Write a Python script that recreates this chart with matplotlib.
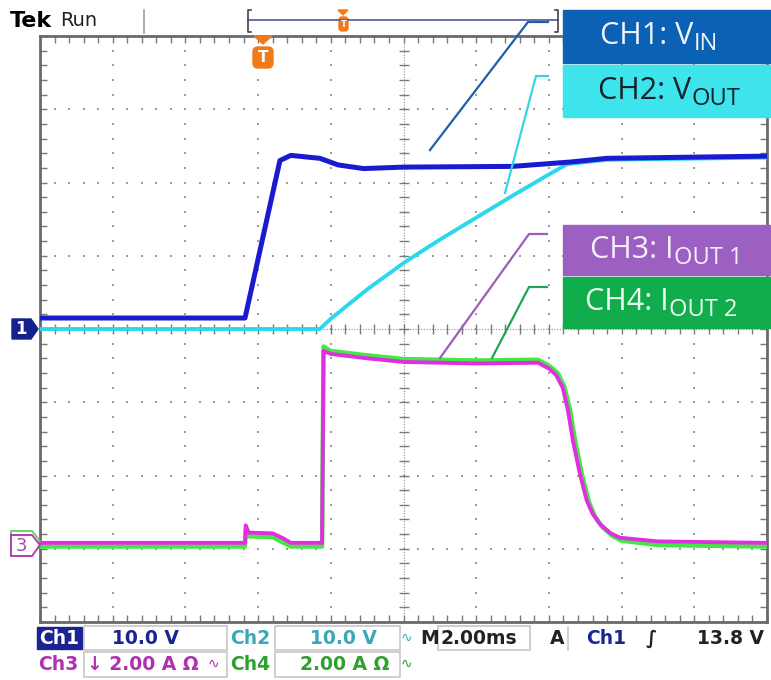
import numpy as np
import matplotlib
matplotlib.use('Agg')
import matplotlib.pyplot as plt
from matplotlib.patches import Rectangle, Polygon, FancyBboxPatch

# --- scope settings (2 ms/div, 10 V/div for CH1/CH2, 2 A/div for CH3/CH4) ---
V_PER_DIV = 10.0
A_PER_DIV = 2.0
CH3_GND = -3.0   # ground marker of CH3/CH4, in divisions

# CH1: V_IN (V) vs time (ms)
t_vin = [0, 5.64, 6.6, 6.9, 7.7, 8.2, 8.9, 10.0, 13.0, 14.6, 15.6, 20.0]
vin_v = [1.5, 1.5, 23.0, 23.7, 23.3, 22.4, 21.9, 22.1, 22.2, 22.8, 23.3, 23.6]

# CH2: V_OUT (V)
t_vout = [0, 7.7, 8.0, 9.0, 10.0, 11.0, 12.0, 13.0, 14.0, 14.5, 15.6, 20.0]
vout_v = [0, 0, 1.4, 5.4, 9.0, 12.2, 15.2, 18.2, 21.1, 22.5, 23.1, 23.4]

# CH3: I_OUT1 (A)
t_iout1 = [0, 5.64, 5.66, 5.74, 6.4, 6.7, 6.9, 7.76, 7.8, 8.0, 9.0, 10.0, 12.0, 13.7,
           14.0, 14.2, 14.38, 14.52, 14.66, 14.84, 15.04, 15.2, 15.4, 15.7, 15.96, 17.0, 20.0]
iout1_a = [0.16, 0.16, 0.64, 0.44, 0.42, 0.28, 0.16, 0.16, 5.40, 5.32, 5.20, 5.10, 5.06, 5.08,
           4.92, 4.74, 4.40, 3.80, 2.96, 2.10, 1.32, 0.96, 0.68, 0.42, 0.30, 0.20, 0.16]

# CH4: I_OUT2 (A)
t_iout2 = [0, 5.64, 5.66, 5.74, 6.4, 6.9, 7.76, 7.8, 8.0, 9.0, 10.0, 12.0, 13.7,
           14.0, 14.24, 14.42, 14.58, 14.72, 14.9, 15.1, 15.26, 15.46, 15.76, 16.0, 17.0, 20.0]
iout2_a = [0.06, 0.06, 0.50, 0.34, 0.32, 0.06, 0.06, 5.52, 5.40, 5.28, 5.18, 5.14, 5.16,
           5.00, 4.80, 4.44, 3.80, 2.96, 2.06, 1.28, 0.90, 0.60, 0.34, 0.22, 0.10, 0.06]

W, H = 771, 680
L, R, T, B = 40, 767, 36, 622   # graticule edges in pixels

fig = plt.figure(figsize=(W / 100, H / 100), dpi=100)
fig.patch.set_facecolor('white')

ax = fig.add_axes([L / W, 1 - B / H, (R - L) / W, (B - T) / H])
ax.set_xlim(0, 20)
ax.set_ylim(-4, 4)
for s in ax.spines.values():
    s.set_color('#6a6a6a')
    s.set_linewidth(2)
ax.set_xticks(np.arange(0, 20.01, 0.4))
ax.set_yticks(np.arange(-4, 4.01, 0.2))
ax.tick_params(direction='in', length=5, width=1, color='#7a7a7a',
               top=True, right=True, labelbottom=False, labelleft=False)

# graticule dots
gc = '#9c9c9c'
ydots = np.arange(-4, 4.01, 0.2)
xdots = np.arange(0, 20.01, 0.4)
for k in range(1, 10):
    if k == 5:
        continue
    ax.plot(np.full(len(ydots), 2 * k), ydots, ls='none', marker='s', ms=1.6, mew=0, color=gc)
for m in [-3, -2, -1, 1, 2, 3]:
    ax.plot(xdots, np.full(len(xdots), m), ls='none', marker='s', ms=1.6, mew=0, color=gc)
# centre cross-hair with ticks
ax.axhline(0, color='#8a8a8a', lw=0.8, ls=(0, (1, 1.5)))
ax.axvline(10, color='#8a8a8a', lw=0.8, ls=(0, (1, 1.5)))
ax.plot(xdots, np.zeros(len(xdots)), ls='none', marker='|', ms=7, mew=1, color='#7a7a7a')
ax.plot(np.full(len(ydots), 10), ydots, ls='none', marker='_', ms=7, mew=1, color='#7a7a7a')

# traces
ax.plot(t_iout2, np.array(iout2_a) / A_PER_DIV + CH3_GND, color='#44e844', lw=3.2,
        solid_joinstyle='round', zorder=3)
ax.plot(t_iout1, np.array(iout1_a) / A_PER_DIV + CH3_GND, color='#e12ee1', lw=2.8,
        solid_joinstyle='round', zorder=4)
ax.plot(t_vout, np.array(vout_v) / V_PER_DIV, color='#2ad8ee', lw=2.8,
        solid_joinstyle='round', zorder=5)
ax.plot(t_vin, np.array(vin_v) / V_PER_DIV, color='#1a1ad0', lw=3.6,
        solid_joinstyle='round', zorder=6)

# ---- overlay in pixel coordinates ----
ov = fig.add_axes([0, 0, 1, 1], zorder=10)
ov.set_xlim(0, W)
ov.set_ylim(H, 0)
ov.axis('off')

# header
ov.text(10, 21, 'Tek', fontsize=16, fontweight='bold', color='black', va='center')
ov.text(60, 20, 'Run', fontsize=14, color='#222222', va='center')
ov.plot([144, 144], [10, 33], color='#a0a0a0', lw=1.2)
ov.plot([248, 558], [20, 20], color='#5a64a8', lw=1.3)
ov.plot([251, 248, 248, 251], [10, 10, 32, 32], color='#444444', lw=1.2)
ov.plot([555, 558, 558, 555], [10, 10, 32, 32], color='#444444', lw=1.2)
orange = '#f07a1a'
ov.add_patch(Polygon([(338, 10), (348, 10), (343, 15)], color=orange))
ov.add_patch(FancyBboxPatch((339, 17), 9, 14, boxstyle='round,pad=0,rounding_size=3', color=orange))
ov.text(343.5, 24.5, 'T', fontsize=6, color='white', fontweight='bold', ha='center', va='center')
ov.add_patch(Polygon([(254, 36), (272, 36), (263, 44)], color=orange))
ov.add_patch(FancyBboxPatch((253, 47), 20, 21, boxstyle='round,pad=0,rounding_size=5', color=orange))
ov.text(263, 57.5, 'T', fontsize=11, color='white', fontweight='bold', ha='center', va='center')

# channel ground markers
ov.add_patch(Polygon([(12, 319), (31, 319), (38, 329), (31, 339), (12, 339)], color='#14208c'))
ov.text(21, 329.5, '1', fontsize=12, color='white', fontweight='bold', ha='center', va='center')
ov.add_patch(Polygon([(11, 531), (32, 531), (40, 541), (32, 551), (11, 551)],
                     facecolor='white', edgecolor='#50d050', lw=1.2))
ov.add_patch(Polygon([(11, 535), (32, 535), (40, 545), (32, 556), (11, 556)],
                     facecolor='white', edgecolor='#b040b0', lw=1.4))
ov.text(21, 546, '3', fontsize=13, color='#b040b0', ha='center', va='center')

# callout labels
def callout(y0, y1, fill, x, main, sub, tcolor, leader, lcolor):
    ov.add_patch(Rectangle((563, y0), 210, y1 - y0, color=fill, zorder=2))
    ov.plot(*zip(*leader), color=lcolor, lw=1.6, zorder=1)
    txt = ov.text(x, (y0 + y1) / 2, main, fontsize=22, family='Open Sans',
                  color=tcolor, va='center', ha='left', zorder=3)
    ov.annotate(sub, xy=(1, 0), xycoords=txt, xytext=(0.5, 1), textcoords='offset points',
                fontsize=17, family='Open Sans', color=tcolor, va='baseline', ha='left', zorder=3)

callout(10, 63, '#0b61b3', 600, 'CH1: V', 'IN', '#eef4ff',
        [(548, 22), (528, 22), (430, 150)], '#1f5fa8')
callout(65, 117, '#3ee4ec', 598, 'CH2: V', 'OUT', '#15232f',
        [(548, 76), (536, 76), (505, 193)], '#34d6e6')
callout(225, 275, '#9c5fc2', 590, 'CH3: I', 'OUT 1', '#f6eefc',
        [(547, 234), (529, 234), (440, 358)], '#9a60b8')
callout(277, 328, '#11ad4c', 585, 'CH4: I', 'OUT 2', '#eefaf0',
        [(547, 287), (529, 287), (492, 358)], '#1fa650')

# status bar
navy = '#1a2490'
teal = '#3aa8b8'
mag = '#b030b0'
grn = '#2ea02e'
fs = 13.5
fw = 'bold'
box = dict(fill=False, edgecolor='#c8c8c8', lw=1.2)
ov.add_patch(Rectangle((37, 627), 45, 22, color=navy))
ov.text(39, 638.5, 'Ch1', fontsize=fs, fontweight=fw, color='white', va='center')
ov.add_patch(Rectangle((84, 626), 143, 24, **box))
ov.text(112, 638.5, '10.0 V', fontsize=fs, fontweight=fw, color=navy, va='center')
ov.text(230, 638.5, 'Ch2', fontsize=fs, fontweight=fw, color=teal, va='center')
ov.add_patch(Rectangle((275, 626), 125, 24, **box))
ov.text(310, 638.5, '10.0 V', fontsize=fs, fontweight=fw, color=teal, va='center')
ov.text(401, 638, '∿', fontsize=10, color=teal, va='center')
ov.text(420, 638.5, 'M', fontsize=fs, fontweight=fw, color='#222222', va='center')
ov.add_patch(Rectangle((438, 626), 92, 24, **box))
ov.text(441, 638.5, '2.00ms', fontsize=fs, fontweight=fw, color='#222222', va='center')
ov.text(550, 638.5, 'A', fontsize=fs, fontweight=fw, color='#222222', va='center')
ov.plot([568, 568], [627, 650], color='#c8c8c8', lw=1.2)
ov.text(586, 638.5, 'Ch1', fontsize=fs, fontweight=fw, color=navy, va='center')
ov.text(646, 638.5, '∫', fontsize=fs, fontweight=fw, color='#222222', va='center')
ov.text(697, 638.5, '13.8 V', fontsize=fs, fontweight=fw, color='#222222', va='center')

ov.text(38, 664, 'Ch3', fontsize=fs, fontweight=fw, color=mag, va='center')
ov.add_patch(Rectangle((84, 652), 143, 25, **box))
ov.text(87, 664, '↓ 2.00 A Ω', fontsize=fs, fontweight=fw, color=mag, va='center')
ov.text(208, 664, '∿', fontsize=10, color=mag, va='center')
ov.text(230, 664, 'Ch4', fontsize=fs, fontweight=fw, color=grn, va='center')
ov.add_patch(Rectangle((275, 652), 125, 25, **box))
ov.text(300, 664, '2.00 A Ω', fontsize=fs, fontweight=fw, color=grn, va='center')
ov.text(401, 664, '∿', fontsize=10, color=grn, va='center')

fig.savefig('out.png', dpi=100, facecolor='white')
